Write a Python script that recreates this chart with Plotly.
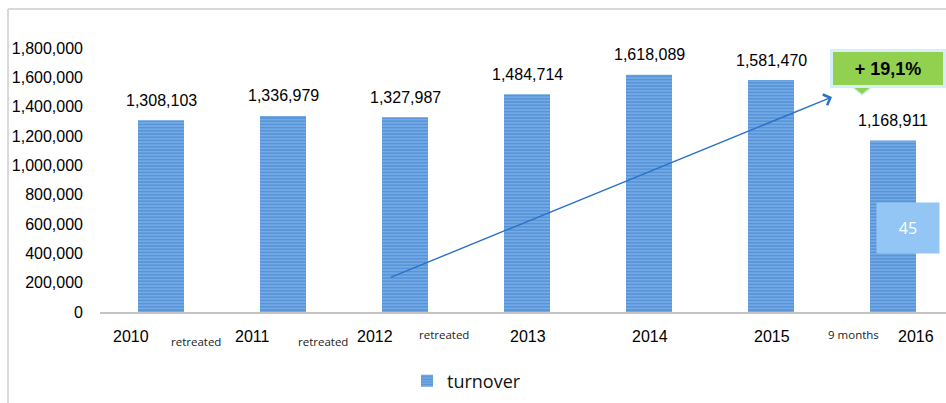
import plotly.graph_objects as go

# ---- data ----
years = ["2010", "2011", "2012", "2013", "2014", "2015", "2016"]
turnover = [1308103, 1336979, 1327987, 1484714, 1618089, 1581470, 1168911]
sublabels = ["retreated", "retreated", "retreated", "9 months"]
growth_text = "+ 19,1%"
box_text = "45"
y_ticks = [0, 200000, 400000, 600000, 800000, 1000000, 1200000, 1400000, 1600000, 1800000]

# ---- layout geometry (pixels) ----
W, H = 946, 403
ML, MR, MT, MB = 100, 0, 30, 91
PW, PH = W - ML - MR, H - MT - MB
YMAX = 1923000


def px(xp):
    return (xp - ML) / PW


def py(yp):
    return (H - MB - yp) / PH


FONT_NUM = "Liberation Sans, Arial, sans-serif"
FONT_CAL = "Open Sans, sans-serif"

xs = list(range(len(years)))

fig = go.Figure()
fig.add_trace(go.Bar(
    x=xs, y=turnover, name="turnover", width=0.377,
    marker=dict(
        color="#7fb3e8",
        line=dict(width=0),
        pattern=dict(shape="-", size=3.2, solidity=0.7,
                     fgcolor="#2a70c8", bgcolor="#86b9ec", fillmode="overlay"),
    ),
    showlegend=True,
))

annotations = []
# value labels above bars
for x, v in zip(xs, turnover):
    annotations.append(dict(x=x, y=v, xref="x", yref="y", text=f"{v:,}",
                            showarrow=False, yshift=20, yanchor="middle",
                            font=dict(family=FONT_NUM, size=16, color="#000000")))

# category labels (irregular placement as in the original)
year_shift = [(-30, "center"), (-11, "right"), (-10, "right"), (1, "center"),
              (1, "center"), (1, "center"), (23, "center")]
year_yc = 336
for x, lab, (sh, anc) in zip(xs, years, year_shift):
    annotations.append(dict(x=x, y=0, xref="x", yref="paper", text=lab,
                            showarrow=False, xshift=sh, xanchor=anc,
                            yshift=-(year_yc - (H - MB)), yanchor="middle",
                            font=dict(family=FONT_NUM, size=16, color="#000000")))

# small sublabels
sub_pos = [(196, 341), (323, 341), (444, 334), (853, 334)]
for lab, (cx, cy) in zip(sublabels, sub_pos):
    annotations.append(dict(x=px(cx), y=py(cy), xref="paper", yref="paper",
                            text=lab, showarrow=False, xanchor="center",
                            yanchor="middle",
                            font=dict(family=FONT_CAL, size=11.5, color="#222222")))

# trend arrow
annotations.append(dict(x=5.50, y=1466000, ax=1.87, ay=231800,
                        xref="x", yref="y", axref="x", ayref="y",
                        text="", showarrow=True, arrowhead=4, arrowsize=1.6,
                        arrowwidth=1.4, arrowcolor="#2a72c8"))

# green callout
annotations.append(dict(x=px(888), y=py(68), xref="paper", yref="paper",
                        text=f"<b>{growth_text}</b>", showarrow=False,
                        xanchor="center", yanchor="middle",
                        width=110, height=33, bgcolor="#92d050",
                        bordercolor="#d5eff9", borderwidth=3, borderpad=0,
                        font=dict(family=FONT_NUM, size=18, color="#000000")))

# light blue box "45"
annotations.append(dict(x=px(908), y=py(228), xref="paper", yref="paper",
                        text=box_text, showarrow=False,
                        xanchor="center", yanchor="middle",
                        width=62, height=50, bgcolor="#93c6f5",
                        borderpad=0,
                        font=dict(family=FONT_CAL, size=16, color="#ffffff")))

shapes = [
    # outer frame (left and top)
    dict(type="line", xref="paper", yref="paper", x0=px(8), x1=px(8),
         y0=py(9), y1=py(H + 2), line=dict(color="#d9d9d9", width=2)),
    dict(type="line", xref="paper", yref="paper", x0=px(8), x1=px(W + 2),
         y0=py(9), y1=py(9), line=dict(color="#d9d9d9", width=2)),
    # callout pointer
    dict(type="path", xref="paper", yref="paper",
         path=f"M {px(851)} {py(86)} L {px(873)} {py(86)} L {px(862)} {py(95)} Z",
         fillcolor="#92d050", line=dict(color="#d5eff9", width=1.5)),
    dict(type="rect", xref="paper", yref="paper", x0=px(852), x1=px(872),
         y0=py(87.5), y1=py(84), fillcolor="#92d050", line=dict(width=0)),
]

fig.update_layout(
    width=W, height=H,
    margin=dict(l=ML, r=MR, t=MT, b=MB),
    paper_bgcolor="white", plot_bgcolor="white",
    bargap=0.6,
    xaxis=dict(range=[-0.5, (W - ML) / 122 - 0.5], showticklabels=False,
               showgrid=False, zeroline=False, showline=True,
               linecolor="#c3c3c3", linewidth=2, ticks=""),
    yaxis=dict(range=[0, YMAX], tickvals=y_ticks, tickformat=",",
               showgrid=False, zeroline=False, showline=False,
               ticks="", ticklabelstandoff=16,
               tickfont=dict(family=FONT_NUM, size=16, color="#000000")),
    showlegend=True,
    legend=dict(orientation="h", x=px(407), y=py(381), xanchor="left",
                yanchor="middle", font=dict(family=FONT_CAL, size=18, color="#111111"),
                bgcolor="rgba(0,0,0,0)"),
    annotations=annotations,
    shapes=shapes,
)

fig.write_html("out.html")
